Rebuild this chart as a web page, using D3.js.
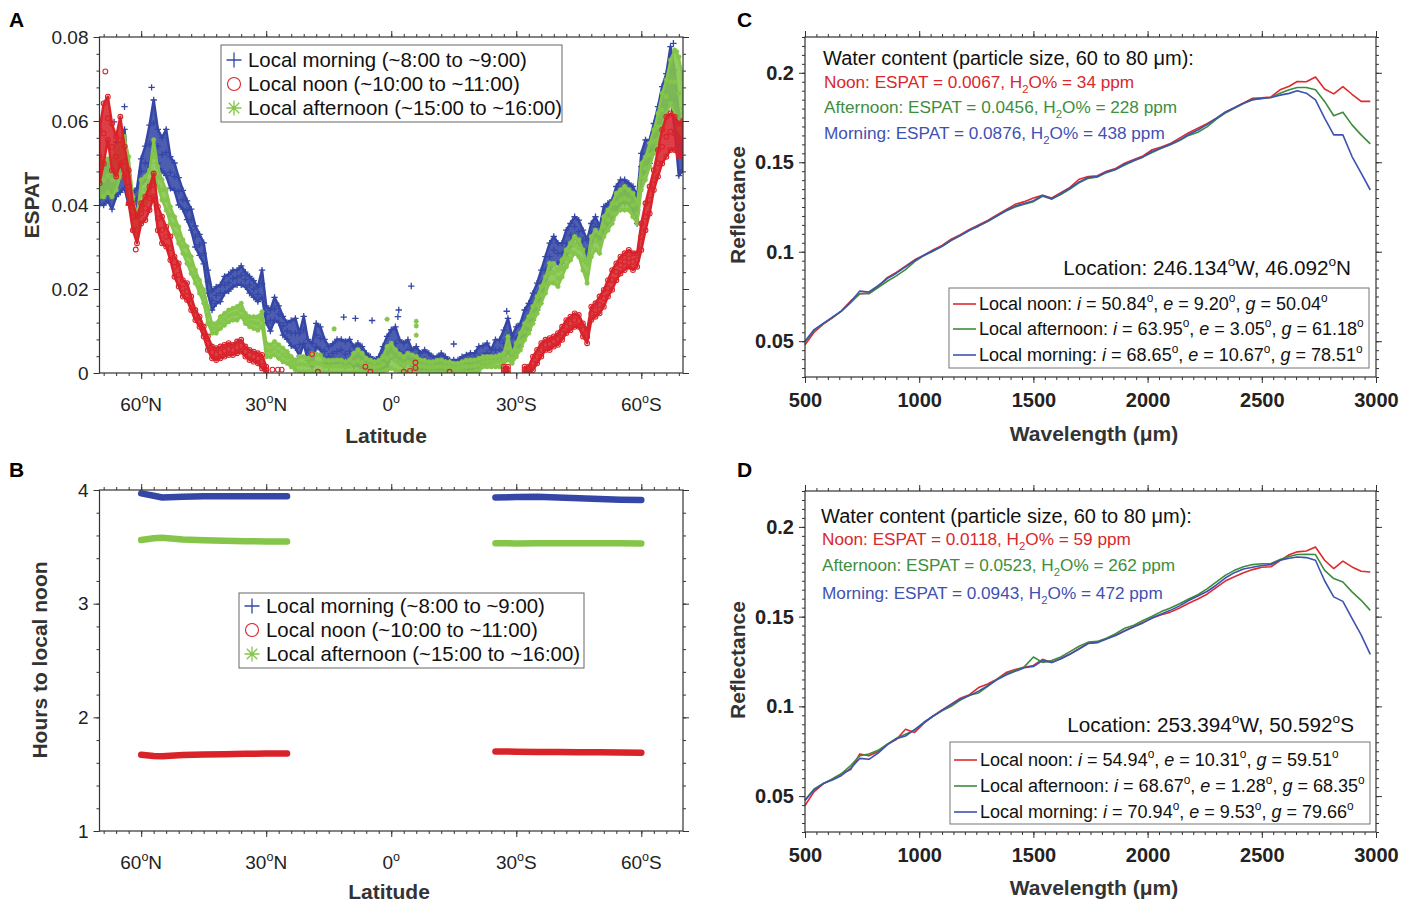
<!DOCTYPE html>
<html>
<head>
<meta charset="utf-8">
<script src="https://cdn.jsdelivr.net/npm/d3@7"></script>
<style>
  body { margin: 0; background: #fff; }
  svg { font-family: "Liberation Sans", Arial, Helvetica, sans-serif; }
</style>
</head>
<body>
<svg id="fig" width="1401" height="902"></svg>
<script>
// ---------- A: ESPAT vs latitude (1 degree bins, lower / upper edge of each cloud) ----------
const lat = [
  70, 69, 68, 67, 66, 65, 64, 63, 62, 61,
  60, 59, 58, 57, 56, 55, 54, 53, 52, 51,
  50, 49, 48, 47, 46, 45, 44, 43, 42, 41,
  40, 39, 38, 37, 36, 35, 34, 33, 32, 31,
  30, 29, 28, 27, 26, 25, 24, 23, 22, 21,
  20, 19, 18, 17, 16, 15, 14, 13, 12, 11,
  10, 9, 8, 7, 6, 5, 4, 3, 2, 1,
  0, -1, -2, -3, -4, -5, -6, -7, -8, -9,
  -10, -11, -12, -13, -14, -15, -16, -17, -18, -19,
  -20, -21, -22, -23, -24, -25, -26, -27, -28, -29,
  -30, -31, -32, -33, -34, -35, -36, -37, -38, -39,
  -40, -41, -42, -43, -44, -45, -46, -47, -48, -49,
  -50, -51, -52, -53, -54, -55, -56, -57, -58, -59,
  -60, -61, -62, -63, -64, -65, -66, -67, -68, -69,
  -70
];

const morningLo = [
  .040, .040, .041, .039, .042, .043, .044, .040, .039, .039,
  .045, .046, .050, .054, .050, .048, .047, .044, .0435, .040,
  .039, .0365, .034, .030, .028, .026, .019, .015, .0165, .017,
  .019, .0195, .0205, .021, .021, .0205, .019, .018, .017, .018,
  .012, .010, .0125, .012, .009, .008, .0065, .006, .004, .007,
  .003, .0015, .0063, .0055, .0023, .0015, .0023, .0023, .003, .0015,
  .0023, .0015, .0019, .0011, .0007, .0003, .0003, .0007, .0011, .0015,
  .0039, .0031, .0023, .0015, .0031, .0015, .0007, .0007, .0011, .0007,
  .0003, .0003, .0007, .0003, .0003, .0003, .0003, .0003, .0007, .0007,
  .0011, .0015, .002, .0023, .0023, .0031, .0031, .0039, .005, .0039,
  .0055, .0063, .0087, .0102, .0126, .015, .0182, .0213, .0245, .0261,
  .0261, .0261, .0277, .0301, .0325, .0309, .0293, .0261, .0309, .0325,
  .0309, .034, .0356, .0364, .0388, .0404, .0404, .0404, .0388, .0356,
  .046, .0483, .0499, .0531, .0563, .0594, .0626, .0658, .0579, .047,
  .0483
];
const morningHi = [
  .048, .049, .050, .048, .055, .054, .058, .047, .043, .044,
  .051, .054, .059, .065, .058, .056, .058, .0515, .050, .0465,
  .0435, .041, .039, .035, .033, .031, .0245, .0195, .0205, .021,
  .023, .0235, .0245, .0245, .0255, .024, .023, .022, .0205, .0245,
  .016, .015, .018, .016, .0135, .012, .0125, .013, .0095, .0135,
  .008, .007, .0118, .011, .008, .0063, .007, .008, .008, .0075,
  .008, .0063, .0071, .0063, .0047, .0039, .0031, .0039, .0063, .0087,
  .0103, .011, .0079, .0071, .0079, .0055, .0063, .0047, .0055, .0047,
  .0039, .0039, .0047, .0039, .0031, .0031, .0031, .0039, .0043, .0047,
  .0047, .0063, .0065, .0071, .0055, .0079, .0079, .0102, .013, .0087,
  .011, .0118, .015, .0166, .019, .0214, .0245, .0277, .0309, .0325,
  .0309, .0309, .034, .0356, .0372, .0364, .034, .0317, .0356, .0372,
  .0348, .0396, .0404, .0412, .0444, .046, .046, .0452, .0444, .042,
  .0523, .0555, .0555, .0594, .0634, .0682, .0713, .0777, .0721, .0618,
  .0579
];

const afternoonLo = [
  .042, .042, .043, .042, .0436, .0468, .0475, .0436, .034, .0325,
  .0388, .0404, .042, .0475, .0444, .0412, .0388, .0356, .0333, .0309,
  .0285, .0261, .0237, .0214, .019, .0166, .0118, .0095, .0095, .0106,
  .0114, .0122, .0126, .0126, .0134, .0118, .011, .0106, .0102, .011,
  .0039, .0039, .0043, .0035, .0027, .0023, .0015, .0007, .0003, .0003,
  .0003, .0001, .0003, .0001, .0001, .0001, .0001, .0001, .0001, .0001,
  .0001, .0003, .0003, .0003, .0001, .0001, .0001, .0001, .0003, .0007,
  .0011, .0007, .0003, .0001, .0003, .0003, .0001, .0001, .0001, .0001,
  .0001, .0001, .0001, .0001, .0001, .0001, .0001, .0001, .0001, .0001,
  .0003, .0003, .0015, .0015, .0015, .0015, .0015, .0023, .0031, .0023,
  .0039, .0055, .0079, .0095, .0118, .0142, .0166, .019, .0214, .0214,
  .0206, .0229, .0253, .0269, .0285, .0277, .0245, .0214, .0277, .0293,
  .0285, .0325, .034, .0356, .038, .0388, .0388, .0388, .0372, .0356,
  .0436, .046, .0491, .0523, .0555, .0587, .0618, .0642, .0618, .0579,
  .056
];
const afternoonHi = [
  .0515, .050, .051, .050, .0539, .0547, .0563, .0515, .042, .0372,
  .046, .0468, .0483, .0555, .0491, .046, .0436, .0396, .0372, .0348,
  .0317, .0301, .0277, .0245, .0221, .0198, .0158, .0118, .0118, .0134,
  .0142, .015, .0154, .0158, .0166, .0142, .0134, .0134, .0134, .0146,
  .0071, .0067, .0075, .0067, .0059, .0051, .0039, .0031, .0039, .0039,
  .0035, .0047, .0045, .0043, .0031, .003, .003, .0031, .0031, .0027,
  .0031, .0047, .0055, .0047, .0035, .0031, .0027, .003, .0039, .0063,
  .0071, .0055, .0045, .0039, .0047, .0043, .0039, .0031, .003, .0027,
  .0027, .003, .0031, .0027, .0027, .0023, .0023, .0027, .003, .0031,
  .0031, .0035, .0039, .0039, .0039, .0039, .0043, .0047, .0087, .0047,
  .0071, .0095, .0118, .0134, .0158, .0182, .0206, .0229, .0261, .0261,
  .0245, .0269, .0293, .0309, .0325, .0317, .0293, .0261, .0325, .034,
  .0333, .0372, .0388, .0404, .0428, .0436, .0444, .0436, .0428, .0404,
  .0499, .0515, .0547, .0579, .0618, .0666, .0698, .0745, .0769, .0753,
  .070
];

const noonLo = [
  .0452, .0499, .0555, .0483, .0468, .0499, .0468, .0404, .034, .0309,
  .0356, .0364, .0388, .042, .034, .0309, .0301, .0269, .0229, .0206,
  .0182, .0174, .015, .0126, .011, .0087, .0055, .0035, .0031, .0035,
  .0039, .0043, .0043, .0047, .0051, .0039, .0031, .0027, .0023, .0011,
  0, null, null, null, null, null, null, null, null, null,
  null, null, null, null, null, null, null, null, null, null,
  null, null, null, null, null, null, null, null, null, null,
  null, null, null, null, null, null, null, null, null, null,
  null, null, null, null, null, null, null, null, null, null,
  null, null, null, null, null, null, null, 0, 0, null,
  null, null, 0, 0, .0007, .0023, .0039, .0055, .0055, .0063,
  .0067, .0079, .0095, .0102, .011, .011, .0087, .0071, .0126, .0134,
  .0142, .0158, .0182, .0198, .0221, .0237, .0245, .0253, .0245, .0253,
  .0293, .034, .038, .0436, .0468, .0499, .0515, .0531, .0531, .0515,
  .052
];
const noonHi = [
  .0579, .0642, .0658, .0594, .0563, .061, .0539, .0483, .0404, .0372,
  .0404, .042, .0444, .0475, .0396, .0372, .0348, .0325, .0277, .0261,
  .0221, .0214, .0182, .015, .0134, .011, .0087, .0063, .0059, .0063,
  .0067, .0071, .0067, .0075, .0079, .0063, .0055, .0051, .0047, .0043,
  .0015, null, null, null, null, null, null, null, null, null,
  null, null, null, null, null, null, null, null, null, null,
  null, null, null, null, null, null, null, null, null, null,
  null, null, null, null, null, null, null, null, null, null,
  null, null, null, null, null, null, null, null, null, null,
  null, null, null, null, null, null, null, .0015, .0015, null,
  null, null, .0015, .0015, .0039, .0055, .0071, .0079, .0083, .0087,
  .0095, .011, .0126, .0134, .0142, .0138, .0118, .0102, .0158, .0166,
  .0182, .0198, .0221, .0245, .0261, .0277, .0285, .0293, .0285, .0285,
  .0356, .0404, .0444, .0483, .0531, .0579, .061, .0618, .061, .0594,
  .060
];

// isolated retrievals away from the main clouds: [latitude, ESPAT]
const morningStray = [[57.5, .068], [64, .0634], [66.5, .0598], [11.4, .0133], [8.6, .013], [4.6, .0125],
  [-1.8, .015], [-1.6, .0134], [-4.8, .0207], [-15, .0069], [-27.7, .0147], [-67.7, .0785]];
const afternoonStray = [[13.7, .0105], [1, .0128], [-6, .0123], [-6, .0112], [-6, .009], [-68.5, .0765]];
const noonStray = [[68.6, .0718], [61.3, .0294], [28.5, .0008], [27.2, .0008], [26.3, .0008], [19, .0045],
  [17.6, .0003], [6.2, .0015], [5, .0003], [-3, .0003], [-4.5, .0005], [-5.8, .0025], [-5.8, .0012], [-14, .0003]];

// ---------- B: hours to local noon ----------
const bLatN = [60, 57, 55, 50, 45, 40, 35, 30, 25];
const morningHrsN = [3.97, 3.95, 3.935, 3.94, 3.945, 3.945, 3.945, 3.945, 3.945];
const afternoonHrsN = [3.56, 3.575, 3.58, 3.565, 3.558, 3.553, 3.55, 3.548, 3.548];
const noonHrsN = [1.671, 1.66, 1.657, 1.668, 1.674, 1.676, 1.679, 1.681, 1.682];
const bLatS = [-25, -30, -35, -40, -45, -50, -55, -60];
const morningHrsS = [3.935, 3.938, 3.94, 3.935, 3.928, 3.92, 3.915, 3.912];
const afternoonHrsS = [3.532, 3.53, 3.532, 3.531, 3.532, 3.532, 3.531, 3.53];
const noonHrsS = [1.70, 1.698, 1.696, 1.694, 1.693, 1.692, 1.69, 1.688];

// ---------- C / D: reflectance spectra ----------
const wavelength = [500, 540, 580, 620, 660, 700, 740, 780, 820, 860, 900, 940, 980, 1020, 1060, 1100,
  1140, 1180, 1220, 1260, 1300, 1340, 1380, 1420, 1460, 1500, 1540, 1580, 1620, 1660, 1700, 1740,
  1780, 1820, 1860, 1900, 1940, 1980, 2020, 2060, 2100, 2140, 2180, 2220, 2260, 2300, 2340, 2380,
  2420, 2460, 2500, 2540, 2580, 2620, 2655, 2695, 2735, 2775, 2815, 2855, 2895, 2935, 2975];

const cNoon = [.048, .055, .0595, .063, .067, .0725, .0765, .077, .0805, .0855, .0885, .092, .0955, .098, .101, .1035,
  .107, .1095, .1125, .115, .1175, .1205, .1235, .1265, .128, .130, .1315, .130, .133, .136, .1405, .142,
  .1425, .145, .1465, .1495, .1515, .1535, .157, .1585, .1605, .1635, .1665, .169, .1715, .1745, .178, .1805,
  .1832, .1858, .186, .1865, .1905, .1925, .1951, .195, .1976, .1909, .1882, .1923, .188, .184, .184];
const cAfternoon = [.0495, .056, .0598, .0632, .0668, .0715, .0765, .0765, .080, .0835, .0865, .090, .0945, .0978, .1003, .103,
  .1063, .109, .112, .1143, .117, .120, .1228, .125, .1265, .128, .131, .1295, .132, .135, .1385, .141,
  .1418, .1442, .146, .1485, .1508, .153, .1555, .1578, .1598, .1622, .165, .1668, .1698, .174, .1775, .1802,
  .1828, .185, .1857, .1862, .1886, .1905, .1918, .1918, .1905, .184, .176, .178, .1709, .1653, .1603];
const cMorning = [.050, .0565, .060, .0635, .067, .072, .078, .0775, .081, .085, .088, .0915, .095, .098, .1005, .103,
  .1065, .109, .112, .1145, .117, .120, .123, .1255, .127, .1285, .1315, .1295, .1325, .1355, .139, .1415,
  .142, .1445, .146, .149, .151, .153, .156, .158, .160, .1625, .1655, .168, .171, .1745, .178, .1805,
  .183, .185, .1857, .1862, .1875, .1885, .190, .1886, .1849, .1747, .1653, .1653, .1532, .1439, .1345];

const dNoon = [.0448, .0525, .0568, .0595, .0625, .0648, .0735, .0725, .0748, .0788, .0815, .0872, .0855, .0905, .0945, .098,
  .1012, .1045, .1065, .1105, .1125, .1152, .1188, .1205, .1218, .1228, .1262, .1245, .1265, .1292, .1322, .1352,
  .1358, .1378, .1398, .1422, .1445, .1468, .1492, .151, .1525, .1548, .1575, .1598, .1625, .1662, .1698, .1722,
  .1745, .1762, .1775, .1778, .1812, .1845, .1861, .1866, .1888, .1814, .1768, .1809, .1777, .1753, .1749];
const dAfternoon = [.0478, .054, .057, .0595, .0625, .067, .0725, .0735, .0755, .079, .0822, .0845, .0868, .091, .0945, .0975,
  .100, .1035, .1062, .1075, .1112, .115, .118, .120, .122, .1275, .1245, .1255, .1275, .1305, .1335, .1358,
  .1362, .138, .1405, .1435, .1452, .1478, .1502, .1528, .1548, .1572, .1598, .1622, .1655, .1692, .173, .1758,
  .1778, .179, .1795, .1796, .1818, .1835, .1846, .1848, .1846, .1758, .1712, .1693, .1638, .1591, .1535];
const dMorning = [.0476, .0535, .057, .059, .0615, .0655, .071, .0705, .074, .0785, .082, .0835, .087, .091, .0945, .0978,
  .101, .104, .106, .1085, .1115, .1148, .1175, .1195, .1215, .1222, .1255, .1245, .1265, .129, .132, .135,
  .1355, .1375, .1395, .142, .1443, .1465, .1492, .1515, .1535, .156, .159, .1615, .164, .1675, .1715, .1745,
  .1765, .1775, .1785, .179, .1815, .1825, .1832, .1829, .1814, .170, .161, .1585, .149, .1398, .129];

// tick labels
const latTicks = [60, 30, 0, -30, -60];
const espatTicks = [0, 0.02, 0.04, 0.06, 0.08];
const hourTicks = [1, 2, 3, 4];
const wlTicks = [500, 1000, 1500, 2000, 2500, 3000];
const reflTicks = [0.05, 0.1, 0.15, 0.2];

const blue = '#3447a6', red = '#d9232b', green = '#84c54a';
const lineRed = '#dd2a2e', lineGreen = '#3c8c3c', lineBlue = '#3d52b2';
const axisCol = '#333';

const svg = d3.select('#fig');

// text with sub/superscripts and italics; parts = [[string, 'i'|'sup'|'sub'|''], ...]
function rich(sel, parts, fs) {
  let shift = 0;
  parts.forEach(([s, k]) => {
    const t = sel.append('tspan').text(s);
    let target = 0;
    if (k === 'sup') { target = -fs * 0.42; t.attr('font-size', fs * 0.66); }
    else if (k === 'sub') { target = fs * 0.3; t.attr('font-size', fs * 0.66); }
    else if (k === 'i') t.attr('font-style', 'italic');
    if (target !== shift) t.attr('dy', target - shift);
    shift = target;
  });
  return sel;
}

function boxAxes(g, x, y, t) {
  const [l, r] = x.range(), [b, tp] = y.range();
  const add = (axis, tr) => g.append('g').attr('transform', tr).call(axis)
    .call(s => s.select('.domain').remove());
  [[t.xMinor, 3], [t.xMajor, 6]].forEach(([vals, len]) => {
    add(d3.axisBottom(x).tickValues(vals).tickSize(len).tickFormat(''), `translate(0,${b})`);
    add(d3.axisTop(x).tickValues(vals).tickSize(len).tickFormat(''), `translate(0,${tp})`);
  });
  [[t.yMinor, 3], [t.yMajor, 6]].forEach(([vals, len]) => {
    add(d3.axisLeft(y).tickValues(vals).tickSize(len).tickFormat(''), `translate(${l},0)`);
    add(d3.axisRight(y).tickValues(vals).tickSize(len).tickFormat(''), `translate(${r},0)`);
  });
  g.selectAll('.tick line').attr('stroke', axisCol).attr('stroke-width', 1);
  g.append('rect').attr('x', l).attr('y', tp).attr('width', r - l).attr('height', b - tp)
    .attr('fill', 'none').attr('stroke', axisCol).attr('stroke-width', 1.2);

  // y tick labels
  add(d3.axisLeft(y).tickValues(t.yMajor).tickSize(0).tickPadding(11).tickFormat(t.yFmt), `translate(${l},0)`)
    .attr('font-family', null).attr('font-size', t.fs).attr('font-weight', t.fw)
    .selectAll('text').attr('fill', '#222');
}

function latLabels(g, x, baseY) {
  latTicks.forEach(v => {
    const hemi = v > 0 ? 'N' : v < 0 ? 'S' : '';
    const txt = g.append('text').attr('x', x(v)).attr('y', baseY).attr('text-anchor', 'middle')
      .attr('font-size', 19).attr('fill', '#222');
    rich(txt, [[String(Math.abs(v)), ''], ['o', 'sup'], [hemi, '']], 19);
  });
}

function markerPath(kind, s) {
  if (kind === 'plus') return `M${-s},0H${s}M0,${-s}V${s}`;
  if (kind === 'star') {
    const d = s * 0.7;
    return `M${-s},0H${s}M0,${-s}V${s}M${-d},${-d}L${d},${d}M${-d},${d}L${d},${-d}`;
  }
  return null;
}

function drawMarkers(g, pts, kind, col, size) {
  if (kind === 'circle') {
    g.selectAll(null).data(pts).enter().append('circle')
      .attr('cx', d => d[0]).attr('cy', d => d[1]).attr('r', size)
      .attr('fill', 'none').attr('stroke', col).attr('stroke-width', 1.1);
  } else {
    g.selectAll(null).data(pts).enter().append('path')
      .attr('transform', d => `translate(${d[0]},${d[1]})`)
      .attr('d', markerPath(kind, size))
      .attr('fill', 'none').attr('stroke', col).attr('stroke-width', 1.3);
  }
}

function legendBox(g, x0, y0, w, h, rowY, rows) {
  g.append('rect').attr('x', x0).attr('y', y0).attr('width', w).attr('height', h)
    .attr('fill', '#fff').attr('stroke', '#666').attr('stroke-width', 1);
  rows.forEach((r, i) => {
    const cy = rowY[i];
    drawMarkers(g, [[x0 + 13, cy]], r.kind, r.col, r.kind === 'circle' ? 6.5 : 7.5);
    g.append('text').attr('x', x0 + 27).attr('y', cy + 7).attr('font-size', 20.4).attr('fill', '#111').text(r.label);
  });
}

const seriesRows = [
  { kind: 'plus', col: blue, label: 'Local morning (~8:00 to ~9:00)' },
  { kind: 'circle', col: red, label: 'Local noon (~10:00 to ~11:00)' },
  { kind: 'star', col: green, label: 'Local afternoon (~15:00 to ~16:00)' }
];

function panelLetter(x, y, s) {
  svg.append('text').attr('x', x).attr('y', y).attr('font-size', 21).attr('font-weight', 'bold').text(s);
}

function axisTitle(x, y, s, rotate) {
  const t = svg.append('text').attr('text-anchor', 'middle').attr('font-size', 21)
    .attr('font-weight', 'bold').attr('fill', '#333');
  if (rotate) t.attr('transform', `translate(${x},${y}) rotate(-90)`);
  else t.attr('x', x).attr('y', y);
  return t;
}

// ================= Panel A =================
{
  const x = d3.scaleLinear().domain([70, -70]).range([99.5, 683]);
  const y = d3.scaleLinear().domain([0, 0.08]).range([373, 37]);
  const g = svg.append('g');
  svg.append('clipPath').attr('id', 'clipA').append('rect').attr('x', 99.5).attr('y', 37).attr('width', 583.5).attr('height', 336);
  const plot = g.append('g').attr('clip-path', 'url(#clipA)');

  const clouds = [
    { lo: morningLo, hi: morningHi, stray: morningStray, kind: 'plus', col: blue, size: 3.2 },
    { lo: afternoonLo, hi: afternoonHi, stray: afternoonStray, kind: 'star', col: green, size: 2.6 },
    { lo: noonLo, hi: noonHi, stray: noonStray, kind: 'circle', col: red, size: 2.4 }
  ];
  clouds.forEach(c => {
    const rows = lat.map((v, i) => ({ lat: v, lo: c.lo[i], hi: c.hi[i] }));
    const area = d3.area().defined(d => d.lo != null)
      .x(d => x(d.lat)).y0(d => y(d.lo)).y1(d => y(d.hi));
    plot.append('path').datum(rows).attr('d', area).attr('fill', c.col).attr('fill-opacity', 0.88)
      .attr('stroke', c.col).attr('stroke-width', 2.5).attr('stroke-linejoin', 'round');
    const pts = [];
    rows.filter(d => d.lo != null).forEach(d => {
      pts.push([x(d.lat), y(d.lo)], [x(d.lat), y(d.hi)], [x(d.lat), y((d.lo + d.hi) / 2)]);
    });
    c.stray.forEach(([la, v]) => pts.push([x(la), y(v)]));
    drawMarkers(plot, pts, c.kind, c.col, c.size);
  });

  boxAxes(g, x, y, {
    xMajor: latTicks, xMinor: d3.range(-69, 70, 3),
    yMajor: espatTicks, yMinor: d3.range(0, 0.0801, 0.004),
    yFmt: v => v === 0 ? '0' : v.toFixed(2), fs: 19, fw: 'normal'
  });
  latLabels(g, x, 411);
  legendBox(g, 221, 45, 341, 77, [60, 84, 108], seriesRows);

  axisTitle(39, 205, null, true).text('ESPAT');
  axisTitle(386, 443, null, false).text('Latitude');
  panelLetter(9, 27, 'A');
}

// ================= Panel B =================
{
  const x = d3.scaleLinear().domain([70, -70]).range([99.5, 683]);
  const y = d3.scaleLinear().domain([1, 4]).range([831, 490]);
  const g = svg.append('g');
  const line = d3.line().x(d => x(d[0])).y(d => y(d[1]));
  const bands = [
    { n: morningHrsN, s: morningHrsS, col: blue },
    { n: afternoonHrsN, s: afternoonHrsS, col: green },
    { n: noonHrsN, s: noonHrsS, col: red }
  ];
  bands.forEach(b => {
    [[bLatN, b.n], [bLatS, b.s]].forEach(([la, v]) => {
      const pts = la.map((l, i) => [l, v[i]]);
      g.append('path').datum(pts).attr('d', line).attr('fill', 'none')
        .attr('stroke', b.col).attr('stroke-width', 6.5).attr('stroke-linecap', 'round');
    });
  });

  boxAxes(g, x, y, {
    xMajor: latTicks, xMinor: d3.range(-69, 70, 3),
    yMajor: hourTicks, yMinor: d3.range(1, 4.01, 0.2),
    yFmt: d3.format('d'), fs: 19, fw: 'normal'
  });
  latLabels(g, x, 869);
  legendBox(g, 239, 593, 345, 75, [606, 630, 654], seriesRows);

  axisTitle(47, 660, null, true).text('Hours to local noon');
  axisTitle(389, 899, null, false).text('Latitude');
  panelLetter(9, 477, 'B');
}

// ================= Panels C and D =================
function spectraPanel(o) {
  const x = d3.scaleLinear().domain([500, 3000]).range([805, 1376]);
  const y = d3.scaleLinear().domain([0.03, 0.22]).range([o.bottom, o.top]);
  const g = svg.append('g');
  const line = d3.line().x((d, i) => x(wavelength[i])).y(d => y(d));
  [[o.noon, lineRed], [o.afternoon, lineGreen], [o.morning, lineBlue]].forEach(([v, col]) => {
    g.append('path').datum(v).attr('d', line).attr('fill', 'none')
      .attr('stroke', col).attr('stroke-width', 1.6).attr('stroke-linejoin', 'round');
  });

  boxAxes(g, x, y, {
    xMajor: wlTicks, xMinor: d3.range(500, 3001, 50),
    yMajor: reflTicks, yMinor: d3.range(0.03, 0.2201, 0.005),
    yFmt: v => String(+v.toFixed(2)), fs: 20, fw: 'bold'
  });
  g.append('g').attr('transform', `translate(0,${o.bottom})`)
    .call(d3.axisBottom(x).tickValues(wlTicks).tickSize(0).tickPadding(16).tickFormat(d3.format('d')))
    .call(s => s.select('.domain').remove())
    .attr('font-family', null).attr('font-size', 20).attr('font-weight', 'bold')
    .selectAll('text').attr('fill', '#222');

  // water content notes
  g.append('text').attr('x', o.noteX).attr('y', o.noteY[0]).attr('font-size', 20).attr('fill', '#111')
    .text('Water content (particle size, 60 to 80 \u03bcm):');
  o.notes.forEach((n, i) => {
    const t = g.append('text').attr('x', o.noteX + 1).attr('y', o.noteY[i + 1]).attr('font-size', 17.2).attr('fill', n.col);
    rich(t, [[n.head + ', H', ''], ['2', 'sub'], ['O% = ' + n.ppm + ' ppm', '']], 17.2);
  });

  const loc = g.append('text').attr('x', o.locX).attr('y', o.locY).attr('text-anchor', 'end')
    .attr('font-size', 20.7).attr('fill', '#111');
  rich(loc, [['Location: ' + o.lon, ''], ['o', 'sup'], ['W, ' + o.lat, ''], ['o', 'sup'], [o.hemi, '']], 20.7);

  // geometry legend
  const lg = o.legend;
  g.append('rect').attr('x', lg.x).attr('y', lg.y).attr('width', 420).attr('height', lg.h)
    .attr('fill', '#fff').attr('stroke', '#777').attr('stroke-width', 1);
  lg.rows.forEach((r, i) => {
    const cy = lg.rowY[i];
    g.append('line').attr('x1', lg.x + 4).attr('x2', lg.x + 27).attr('y1', cy).attr('y2', cy)
      .attr('stroke', r.col).attr('stroke-width', 1.6);
    const t = g.append('text').attr('x', lg.x + 30).attr('y', cy + 6).attr('font-size', 18).attr('fill', '#111');
    rich(t, [[r.name + ': ', ''], ['i', 'i'], [' = ' + r.angles[0], ''], ['o', 'sup'], [', ', ''],
      ['e', 'i'], [' = ' + r.angles[1], ''], ['o', 'sup'], [', ', ''],
      ['g', 'i'], [' = ' + r.angles[2], ''], ['o', 'sup']], 18);
  });

  axisTitle(745, o.yTitle, null, true).text('Reflectance');
  const wt = axisTitle(1094, o.xTitle, null, false);
  wt.text('Wavelength (\u03bcm)');
  panelLetter(737, o.letterY, o.letter);
}

spectraPanel({
  letter: 'C', letterY: 27, top: 37, bottom: 377, yTitle: 205, xTitle: 441,
  noon: cNoon, afternoon: cAfternoon, morning: cMorning,
  noteX: 823, noteY: [65, 88, 113, 139],
  notes: [
    { head: 'Noon: ESPAT = 0.0067', ppm: '34', col: '#d8282c' },
    { head: 'Afternoon: ESPAT = 0.0456', ppm: '228', col: '#3e8e3e' },
    { head: 'Morning: ESPAT = 0.0876', ppm: '438', col: '#3f51b2' }
  ],
  locX: 1351, locY: 275, lon: '246.134', lat: '46.092', hemi: 'N',
  legend: {
    x: 949, y: 288, h: 80, rowY: [304, 329, 355], rows: [
      { name: 'Local noon', angles: ['50.84', '9.20', '50.04'], col: lineRed },
      { name: 'Local afternoon', angles: ['63.95', '3.05', '61.18'], col: lineGreen },
      { name: 'Local morning', angles: ['68.65', '10.67', '78.51'], col: lineBlue }
    ]
  }
});

spectraPanel({
  letter: 'D', letterY: 477, top: 491, bottom: 832, yTitle: 660, xTitle: 895,
  noon: dNoon, afternoon: dAfternoon, morning: dMorning,
  noteX: 821, noteY: [523, 545, 571, 599],
  notes: [
    { head: 'Noon: ESPAT = 0.0118', ppm: '59', col: '#d8282c' },
    { head: 'Afternoon: ESPAT = 0.0523', ppm: '262', col: '#3e8e3e' },
    { head: 'Morning: ESPAT = 0.0943', ppm: '472', col: '#3f51b2' }
  ],
  locX: 1354, locY: 732, lon: '253.394', lat: '50.592', hemi: 'S',
  legend: {
    x: 950, y: 742, h: 82, rowY: [760, 786, 812], rows: [
      { name: 'Local noon', angles: ['54.94', '10.31', '59.51'], col: lineRed },
      { name: 'Local afternoon', angles: ['68.67', '1.28', '68.35'], col: lineGreen },
      { name: 'Local morning', angles: ['70.94', '9.53', '79.66'], col: lineBlue }
    ]
  }
});
</script>
</body>
</html>
